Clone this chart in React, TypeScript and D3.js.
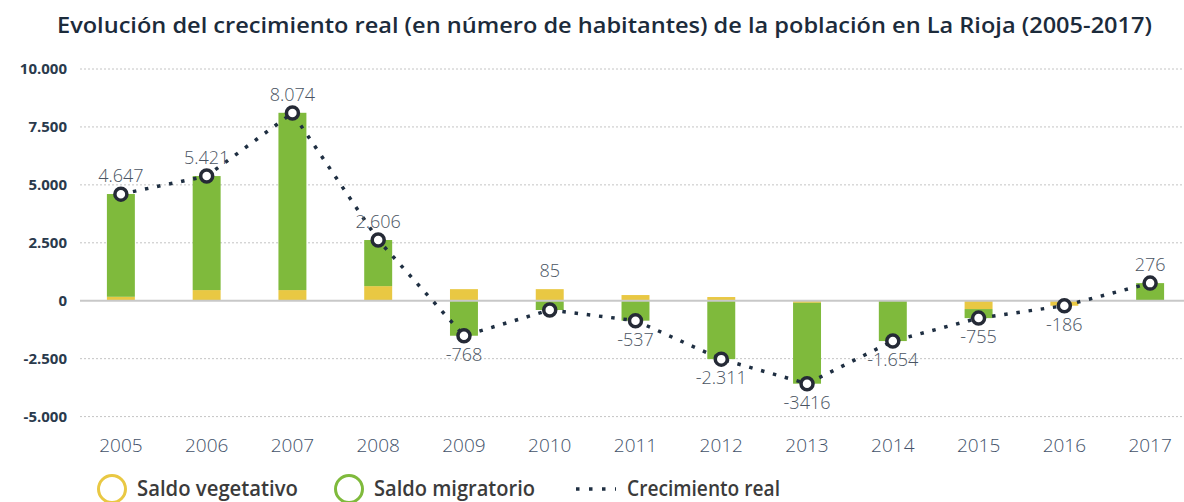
import React from "react";
import * as d3 from "d3";

const years = ["2005","2006","2007","2008","2009","2010","2011","2012","2013","2014","2015","2016","2017"];
const saldoVegetativo = [170, 460, 460, 630, 500, 500, 245, 160, -90, 0, -360, -215, 0];
const saldoMigratorio = [4435, 4920, 7650, 1990, -1510, -400, -860, -2520, -3490, -1740, -390, 0, 760];
const crecimientoReal = [4600, 5380, 8100, 2620, -1510, -400, -860, -2520, -3580, -1740, -750, -215, 760];
const pointLabels = ["4.647","5.421","8.074","2.606","-768","85","-537","-2.311","-3416","-1.654","-755","-186","276"];
const labelAbove = [true, true, true, true, false, true, false, false, false, false, false, false, true];
const yTicks = [10000, 7500, 5000, 2500, 0, -2500, -5000];
const yTickLabels = ["10.000","7.500","5.000","2.500","0","-2.500","-5.000"];
const title = "Evolución del crecimiento real (en número de habitantes) de la población en La Rioja (2005-2017)";
const legendItems = ["Saldo vegetativo", "Saldo migratorio", "Crecimiento real"];

const W = 1184, H = 502;
const YELLOW = "#e9c843";
const GREEN = "#7fba3c";
const DARK = "#1f2f42";
const FONT = "'Open Sans', sans-serif";

export default function App() {
  const x = d3.scaleBand().domain(years).range([78, 1193]).paddingInner(0.674).paddingOuter(0.337);
  const y = d3.scaleLinear().domain([-5000, 10000]).range([416.6, 69]);
  const bw = x.bandwidth();
  const cx = (i: number) => (x(years[i]) as number) + bw / 2;

  const segs: { x: number; y0: number; y1: number; color: string }[] = [];
  years.forEach((yr, i) => {
    let pos = 0, neg = 0;
    [[saldoVegetativo[i], YELLOW], [saldoMigratorio[i], GREEN]].forEach(([v, c]) => {
      const val = v as number;
      if (val >= 0) { segs.push({ x: x(yr) as number, y0: pos, y1: pos + val, color: c as string }); pos += val; }
      else { segs.push({ x: x(yr) as number, y0: neg, y1: neg + val, color: c as string }); neg += val; }
    });
  });

  const line = d3.line<number>().x((_, i) => cx(i)).y((d) => y(d));

  const stackTop = (i: number) => {
    const p = Math.max(0, saldoVegetativo[i]) + Math.max(0, saldoMigratorio[i]);
    return y(p);
  };

  return (
    <svg width={W} height={H} style={{ position: "absolute", left: 0, top: 0, background: "#fff" }} fontFamily={FONT}>
      <text x={57} y={33} textLength={1095} lengthAdjust="spacingAndGlyphs" fontSize={22} fontWeight={600} fill="#1c2b3b">{title}</text>
      {yTicks.map((t, i) => (
        <g key={t}>
          {t !== 0 && <line x1={80} x2={W} y1={y(t)} y2={y(t)} stroke="#c4c4c4" strokeWidth={1} strokeDasharray="2 2" />}
          <text x={67} y={y(t)} dy="0.35em" textAnchor="end" fontSize={15} fontWeight={700} fill="#2a3a4c">{yTickLabels[i]}</text>
        </g>
      ))}
      {segs.map((s, i) => (
        <rect key={i} x={s.x} width={bw} y={y(Math.max(s.y0, s.y1))} height={Math.abs(y(s.y0) - y(s.y1))} fill={s.color} />
      ))}
      <line x1={80} x2={W} y1={y(0)} y2={y(0)} stroke="#c8c8c8" strokeWidth={2} />
      <path d={line(crecimientoReal) as string} fill="none" stroke={DARK} strokeWidth={3.5} strokeDasharray="3.5 8.8" />
      {crecimientoReal.map((v, i) => (
        <circle key={i} cx={cx(i)} cy={y(v)} r={6} fill="#fff" stroke="#252a36" strokeWidth={3.5} />
      ))}
      {pointLabels.map((l, i) => {
        const ly = labelAbove[i] ? Math.min(y(crecimientoReal[i]), stackTop(i)) - 18 : y(crecimientoReal[i]) + 19;
        return (
          <text key={i} x={cx(i)} y={ly} dy="0.35em" textAnchor="middle" fontSize={18} fontWeight={300} fill="#4a5462">{l}</text>
        );
      })}
      {years.map((yr, i) => (
        <text key={yr} x={cx(i)} y={452} textAnchor="middle" fontSize={19} fontWeight={300} fill="#43526a">{yr}</text>
      ))}
      <g>
        <circle cx={112} cy={489} r={13.5} fill="none" stroke={YELLOW} strokeWidth={3} />
        <text x={137} y={496} textLength={161} lengthAdjust="spacingAndGlyphs" fontSize={22} fontWeight={600} fill="#3b3b3b">{legendItems[0]}</text>
        <circle cx={349} cy={489} r={13.5} fill="none" stroke={GREEN} strokeWidth={3} />
        <text x={374} y={496} textLength={161} lengthAdjust="spacingAndGlyphs" fontSize={22} fontWeight={600} fill="#3b3b3b">{legendItems[1]}</text>
        <line x1={576} x2={616} y1={489} y2={489} stroke={DARK} strokeWidth={3.5} strokeDasharray="3.5 9.5" />
        <text x={627} y={496} textLength={153} lengthAdjust="spacingAndGlyphs" fontSize={22} fontWeight={600} fill="#3b3b3b">{legendItems[2]}</text>
      </g>
    </svg>
  );
}
